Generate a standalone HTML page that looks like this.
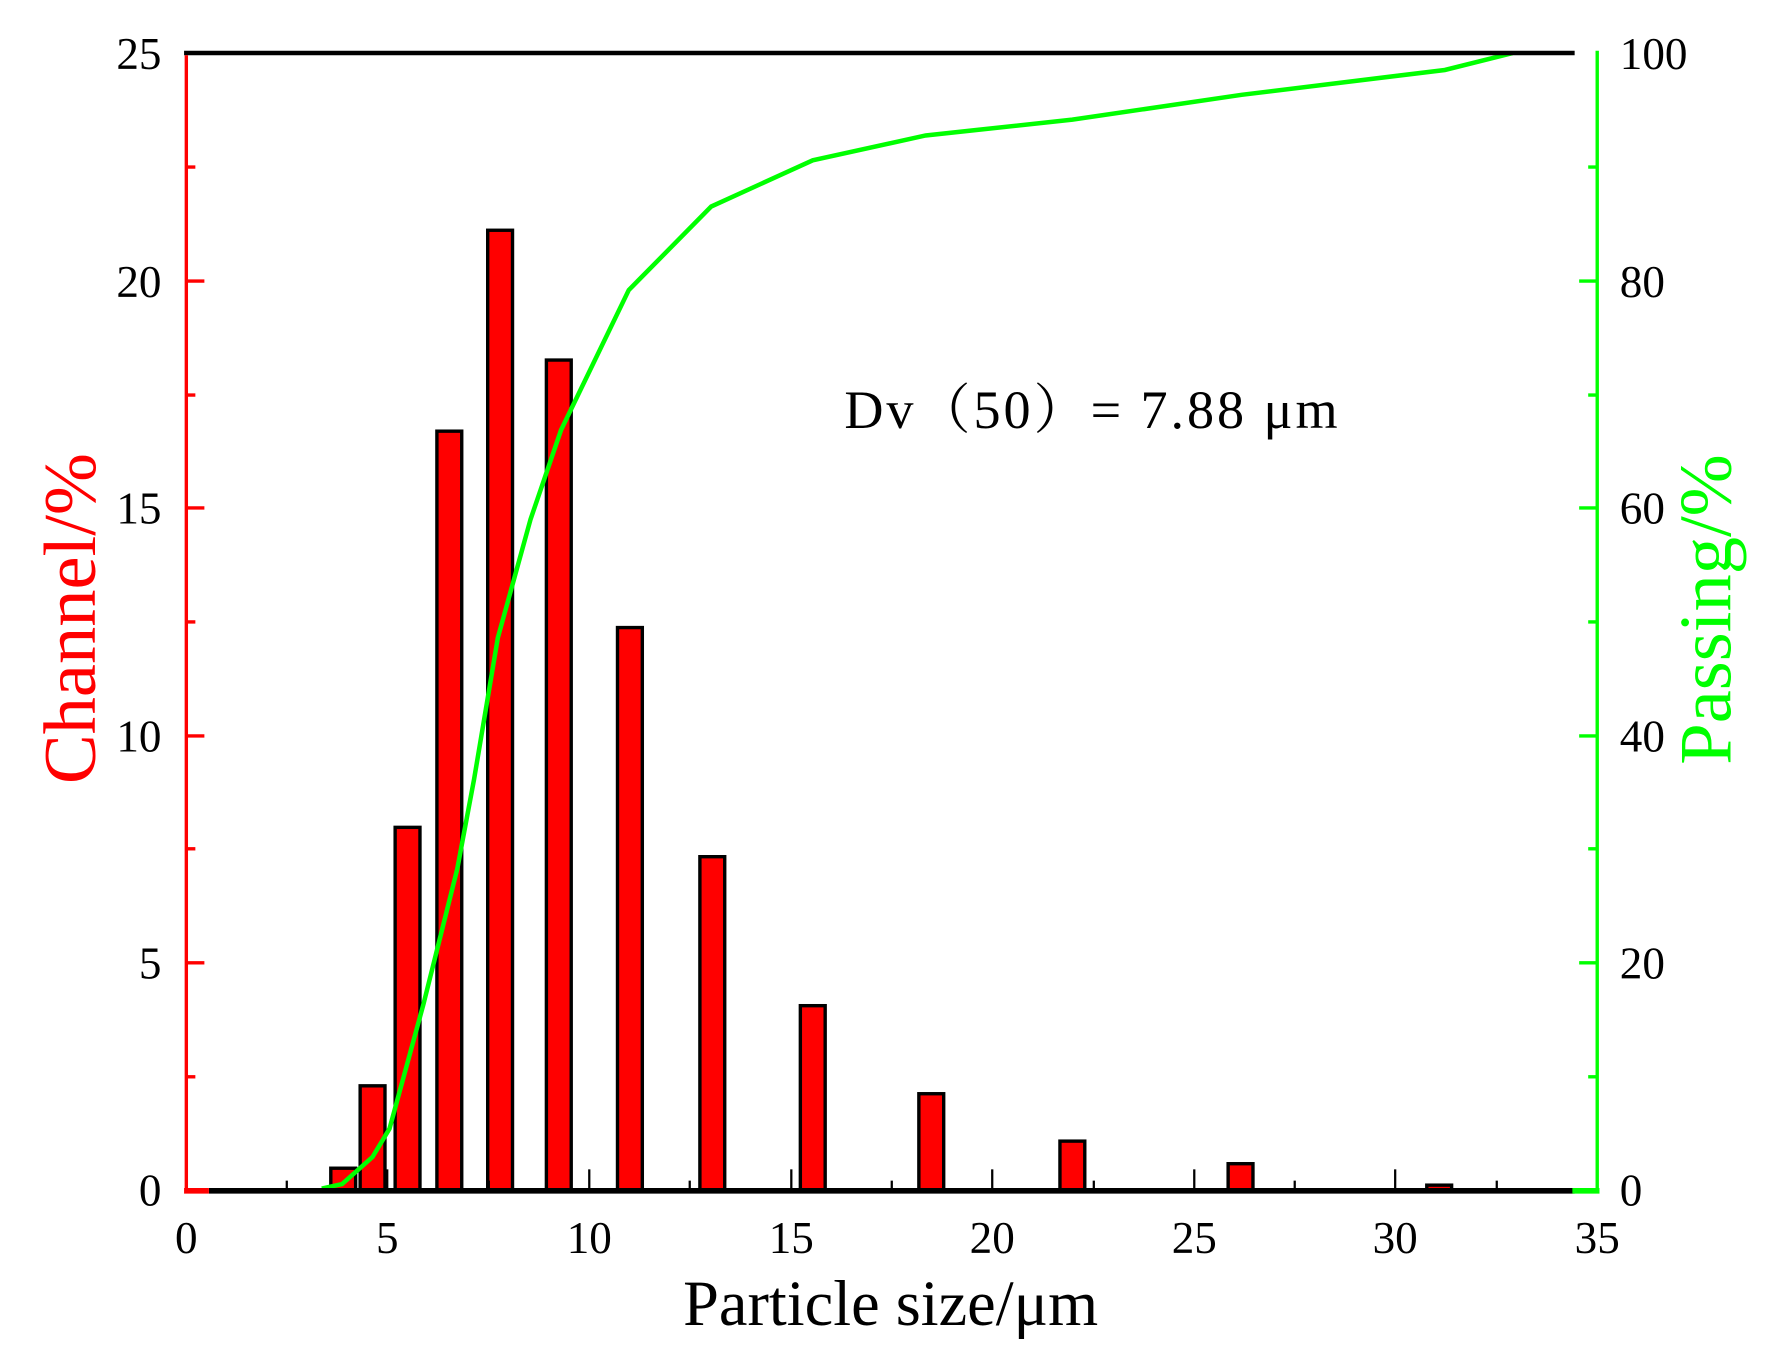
<!DOCTYPE html>
<html><head><meta charset="utf-8"><style>html,body{margin:0;padding:0;background:#fff}svg{display:block}</style></head><body>
<svg width="1770" height="1368" viewBox="0 0 1568 1212" xmlns="http://www.w3.org/2000/svg" font-family="'Liberation Serif', serif">
<rect width="1568" height="1212" fill="#fff"/>
<g fill="#f00" stroke="#000" stroke-width="3">
<rect x="293" y="1035" width="22" height="20"/>
<rect x="319" y="962" width="22" height="93"/>
<rect x="350" y="733" width="22" height="322"/>
<rect x="387" y="382" width="22" height="673"/>
<rect x="432" y="204" width="22" height="851"/>
<rect x="484" y="319" width="22" height="736"/>
<rect x="547" y="556" width="22" height="499"/>
<rect x="620" y="759" width="22" height="296"/>
<rect x="709" y="891" width="22" height="164"/>
<rect x="814" y="969" width="22" height="86"/>
<rect x="939" y="1011" width="22" height="44"/>
<rect x="1088" y="1031" width="22" height="24"/>
<rect x="1264" y="1050" width="22" height="5"/>
</g>
<g stroke="#000" stroke-width="2">
<line x1="254" y1="1055" x2="254" y2="1046"/><line x1="343" y1="1055" x2="343" y2="1036"/>
<line x1="433" y1="1055" x2="433" y2="1046"/><line x1="522" y1="1055" x2="522" y2="1036"/>
<line x1="611" y1="1055" x2="611" y2="1046"/><line x1="701" y1="1055" x2="701" y2="1036"/>
<line x1="790" y1="1055" x2="790" y2="1046"/><line x1="879" y1="1055" x2="879" y2="1036"/>
<line x1="969" y1="1055" x2="969" y2="1046"/><line x1="1058" y1="1055" x2="1058" y2="1036"/>
<line x1="1147" y1="1055" x2="1147" y2="1046"/><line x1="1236" y1="1055" x2="1236" y2="1036"/>
<line x1="1326" y1="1055" x2="1326" y2="1046"/>
</g>
<polyline fill="none" stroke="#0f0" stroke-width="4" points="285,1053 303,1049 330,1025 345,1000 360,945 375,890 390,830 405,770 420,690 441,565 470,460 497,381 557,257 630,183 720,142 820,120 950,106 1100,84 1280,62 1340,47"/>
<line x1="163" y1="47" x2="1395" y2="47" stroke="#000" stroke-width="4"/>
<line x1="185" y1="1055" x2="1395" y2="1055" stroke="#000" stroke-width="5"/>
<line x1="163" y1="1055" x2="185" y2="1055" stroke="#f00" stroke-width="5"/>
<line x1="1393" y1="1055" x2="1417" y2="1055" stroke="#0f0" stroke-width="5"/>
<g stroke="#f00" stroke-width="3">
<line x1="165" y1="49" x2="165" y2="1057"/>
<line x1="165" y1="249" x2="181" y2="249"/><line x1="165" y1="450" x2="181" y2="450"/><line x1="165" y1="652" x2="181" y2="652"/><line x1="165" y1="853" x2="181" y2="853"/>
<line x1="165" y1="148" x2="173" y2="148"/><line x1="165" y1="350" x2="173" y2="350"/><line x1="165" y1="551" x2="173" y2="551"/><line x1="165" y1="752" x2="173" y2="752"/><line x1="165" y1="954" x2="173" y2="954"/>
</g>
<g stroke="#0f0" stroke-width="3">
<line x1="1415" y1="45" x2="1415" y2="1057"/>
<line x1="1415" y1="249" x2="1399" y2="249"/><line x1="1415" y1="450" x2="1399" y2="450"/><line x1="1415" y1="652" x2="1399" y2="652"/><line x1="1415" y1="853" x2="1399" y2="853"/>
<line x1="1415" y1="148" x2="1407" y2="148"/><line x1="1415" y1="350" x2="1407" y2="350"/><line x1="1415" y1="551" x2="1407" y2="551"/><line x1="1415" y1="752" x2="1407" y2="752"/><line x1="1415" y1="954" x2="1407" y2="954"/>
</g>
<g font-size="40" fill="#000" text-anchor="end">
<text x="143" y="61">25</text><text x="143" y="263">20</text><text x="143" y="464">15</text><text x="143" y="666">10</text><text x="143" y="867">5</text><text x="143" y="1068">0</text>
</g>
<g font-size="40" fill="#000" text-anchor="start">
<text x="1435" y="61">100</text><text x="1435" y="263">80</text><text x="1435" y="464">60</text><text x="1435" y="666">40</text><text x="1435" y="867">20</text><text x="1435" y="1068">0</text>
</g>
<g font-size="40" fill="#000" text-anchor="middle">
<text x="165" y="1110">0</text><text x="343" y="1110">5</text><text x="522" y="1110">10</text><text x="701" y="1110">15</text><text x="879" y="1110">20</text><text x="1058" y="1110">25</text><text x="1236" y="1110">30</text><text x="1415" y="1110">35</text>
</g>
<text x="789" y="1174" font-size="57" text-anchor="middle" fill="#000">Particle size/μm</text>
<text transform="translate(84,548) rotate(-90)" font-size="66" text-anchor="middle" fill="#f00">Channel/%</text>
<text transform="translate(1533,540) rotate(-90)" font-size="66" text-anchor="middle" fill="#0f0">Passing/%</text>
<text x="748" y="379" font-size="48" fill="#000" font-family="'Liberation Serif','Noto Serif CJK SC',serif" textLength="437" lengthAdjust="spacing">Dv（50）= 7.88 μm</text>
</svg>
</body></html>
